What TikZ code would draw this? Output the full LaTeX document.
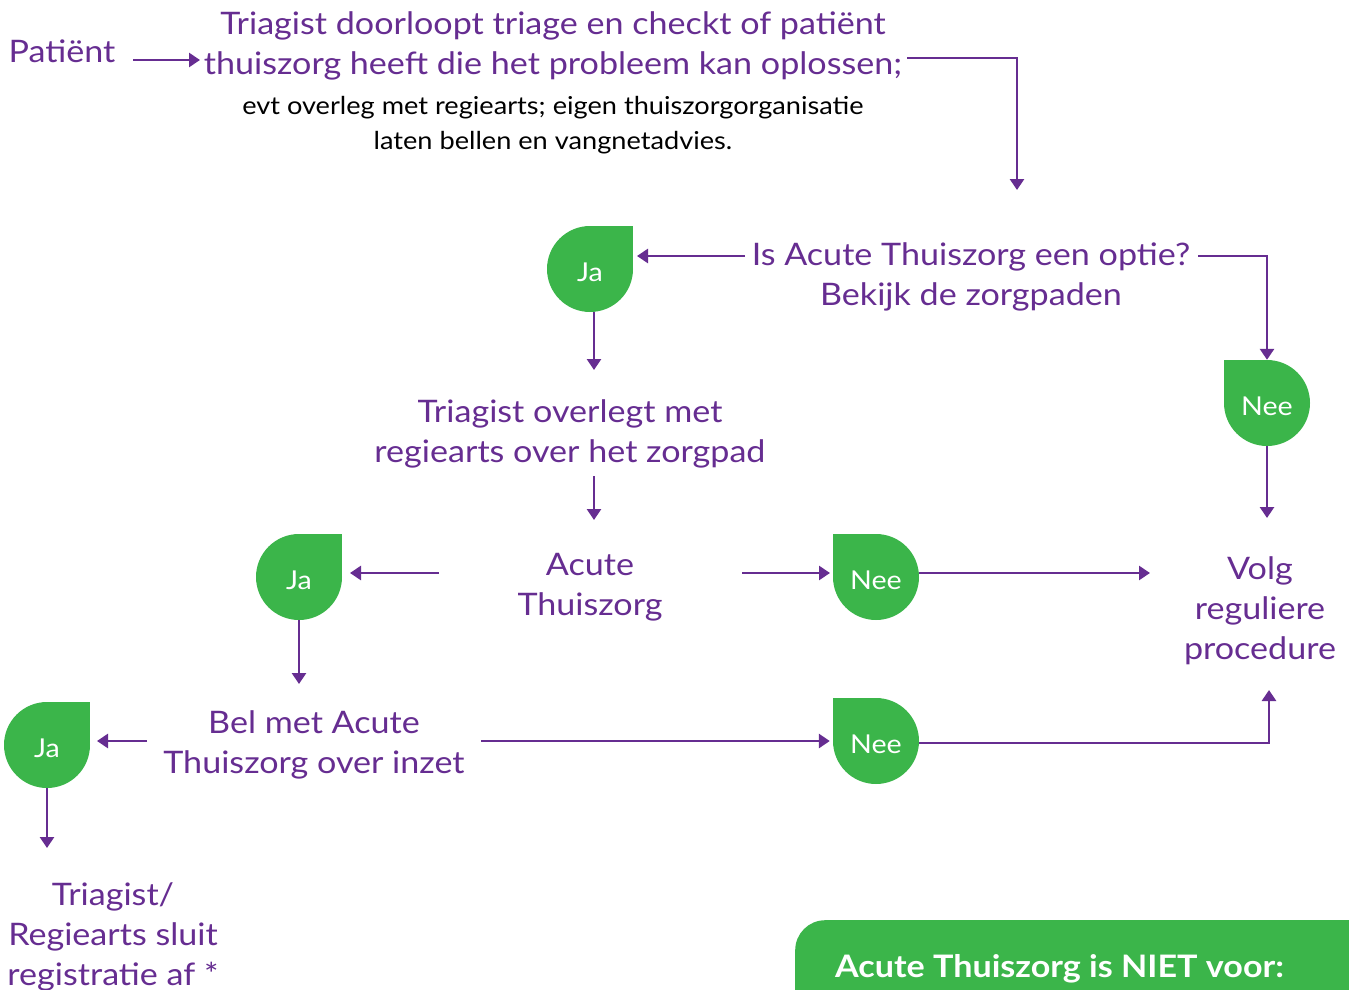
\documentclass[tikz,border=0pt]{standalone}
\usepackage{fontspec}
\setmainfont{Lato}[FakeStretch=1.1]
\usetikzlibrary{arrows.meta,calc}
\definecolor{pur}{HTML}{662D91}
\definecolor{grn}{HTML}{3BB54A}
\begin{document}
\begin{tikzpicture}[x=1pt,y=-1pt,
 txt/.style={text=pur, font=\fontsize{31}{40}\selectfont, align=center, inner sep=0pt},
 small/.style={text=black, font=\fontsize{24.7}{35}\selectfont, align=center, inner sep=0pt},
 leaf/.style={circle, minimum size=86pt, inner sep=0pt, text=white, text height=24.5pt, text depth=0pt, font=\fontsize{26}{30}\selectfont},
 arr/.style={draw=pur, line width=2.8pt, -{Triangle[length=11pt,width=14pt]}},
 boxstyle/.style={fill=grn, rounded corners=30pt, minimum width=620pt, minimum height=150pt, anchor=north west, inner sep=0pt}]
\useasboundingbox (0,0) rectangle (1349,990);
% leaf backgrounds
\fill[grn] (590,269) circle[radius=43pt]; \fill[grn] (590,269) rectangle ++(43,-43);
\fill[grn] (1267,403) circle[radius=43pt]; \fill[grn] (1267,403) rectangle ++(-43,-43);
\fill[grn] (299,577) circle[radius=43pt]; \fill[grn] (299,577) rectangle ++(43,-43);
\fill[grn] (876,577) circle[radius=43pt]; \fill[grn] (876,577) rectangle ++(-43,-43);
\fill[grn] (47,745) circle[radius=43pt]; \fill[grn] (47,745) rectangle ++(43,-43);
\fill[grn] (876,741) circle[radius=43pt]; \fill[grn] (876,741) rectangle ++(-43,-43);
\node[leaf] (ja1) at (590,269) {Ja};
\node[leaf] (nee1) at (1267,403) {Nee};
\node[leaf] (ja2) at (299,577) {Ja};
\node[leaf] (nee2) at (876,577) {Nee};
\node[leaf] (ja3) at (47,745) {Ja};
\node[leaf] (nee3) at (876,741) {Nee};
% texts
\node[txt] (pat) at (62,51) {Patiënt};
\node[txt] (title) at (553,46) {Triagist doorloopt triage en checkt of patiënt\\thuiszorg heeft die het probleem kan oplossen;};
\node[small] (sub) at (553,125) {evt overleg met regiearts; eigen thuiszorgorganisatie\\laten bellen en vangnetadvies.};
\node[txt] (optie) at (971,277) {Is Acute Thuiszorg een optie?\\Bekijk de zorgpaden};
\node[txt] (overl) at (570,434) {Triagist overlegt met\\regiearts over het zorgpad};
\node[txt] (acute) at (590,587) {Acute\\Thuiszorg};
\node[txt] (volg) at (1260,611) {Volg\\reguliere\\procedure};
\node[txt] (bel) at (314,745) {Bel met Acute\\Thuiszorg over inzet};
\node[txt] (sluit) at (113,937) {Triagist/\\Regiearts sluit\\registratie af *};
% bottom box
\node[boxstyle] (box) at (795,920) {};
\node[anchor=west, text=white, inner sep=0pt, font=\fontsize{31}{36}\selectfont\bfseries] (niet) at (835,969) {Acute Thuiszorg is NIET voor:};
% connectors
\draw[arr] ([shift={(71,9)}]pat.center) -- ([shift={(-353,14)}]title.center);
\draw[arr] ([shift={(354,12)}]title.center) -| ([shift={(46,-87)}]optie.center);
\draw[arr] ([shift={(-226,-21)}]optie.center) -- ([shift={(47,-13)}]ja1.center);
\draw[arr] ([shift={(227,-21)}]optie.center) -| (nee1.north);
\draw[arr] ([xshift=4pt]ja1.south) -- ([shift={(24,-64)}]overl.center);
\draw[arr] ([shift={(24,42)}]overl.center) -- ([shift={(4,-67)}]acute.center);
\draw[arr] ([shift={(-151,-14)}]acute.center) -- ([shift={(51,-4)}]ja2.center);
\draw[arr] ([shift={(152,-14)}]acute.center) -- ([shift={(-46,-4)}]nee2.center);
\draw[arr] ([shift={(43,-4)}]nee2.center) -- ([shift={(-110,-38)}]volg.center);
\draw[arr] (nee1.south) -- ([shift={(7,-93)}]volg.center);
\draw[arr] (ja2.south) -- ([shift={(-15,-61)}]bel.center);
\draw[arr] ([shift={(-167,-4)}]bel.center) -- ([shift={(50,-4)}]ja3.center);
\draw[arr] ([shift={(167,-4)}]bel.center) -- ([xshift=-3pt]nee3.west);
\draw[arr] ([shift={(43,2)}]nee3.center) -| ([shift={(9,79)}]volg.center);
\draw[arr] (ja3.south) -- ([shift={(-66,-89)}]sluit.center);
\end{tikzpicture}
\end{document}
